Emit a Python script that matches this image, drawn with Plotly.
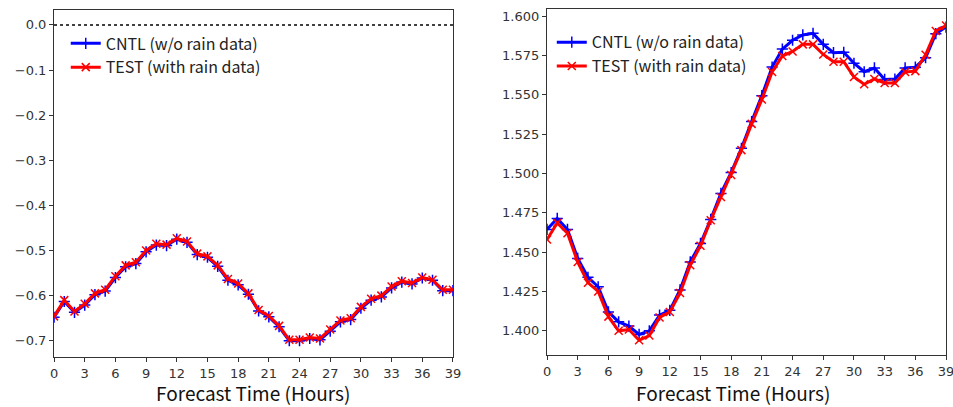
import plotly.graph_objects as go

hours = list(range(40))
x_ticks = list(range(0, 40, 3))

# Left panel (bias)
left_cntl = [-0.648, -0.613, -0.637, -0.621, -0.598, -0.590, -0.560, -0.536, -0.529, -0.503,
             -0.488, -0.489, -0.475, -0.482, -0.509, -0.515, -0.535, -0.566, -0.576, -0.597,
             -0.634, -0.647, -0.669, -0.700, -0.700, -0.695, -0.698, -0.679, -0.658, -0.653,
             -0.628, -0.610, -0.603, -0.583, -0.570, -0.574, -0.561, -0.566, -0.589, -0.589]
left_test = [-0.646, -0.610, -0.635, -0.618, -0.595, -0.587, -0.557, -0.533, -0.526, -0.500,
             -0.485, -0.487, -0.473, -0.480, -0.507, -0.513, -0.533, -0.563, -0.573, -0.595,
             -0.632, -0.645, -0.667, -0.698, -0.698, -0.693, -0.695, -0.675, -0.655, -0.650,
             -0.625, -0.607, -0.600, -0.580, -0.568, -0.572, -0.560, -0.565, -0.587, -0.587]

# Right panel (RMSE)
right_cntl = [1.4644, 1.4714, 1.4644, 1.4460, 1.4340, 1.4280, 1.4120, 1.4057, 1.4030, 1.3977,
              1.4000, 1.4100, 1.4130, 1.4260, 1.4438, 1.4555, 1.4708, 1.4873, 1.5006, 1.5160,
              1.5330, 1.5494, 1.5676, 1.5790, 1.5846, 1.5880, 1.5890, 1.5820, 1.5767, 1.5770,
              1.5700, 1.5646, 1.5670, 1.5597, 1.5600, 1.5670, 1.5675, 1.5735, 1.5888, 1.5930]
right_test = [1.4580, 1.4686, 1.4620, 1.4437, 1.4306, 1.4250, 1.4090, 1.4000, 1.4008, 1.3940,
              1.3970, 1.4085, 1.4120, 1.4240, 1.4417, 1.4540, 1.4703, 1.4850, 1.4990, 1.5148,
              1.5315, 1.5470, 1.5645, 1.5746, 1.5775, 1.5820, 1.5820, 1.5756, 1.5710, 1.5710,
              1.5613, 1.5566, 1.5600, 1.5575, 1.5575, 1.5645, 1.5650, 1.5754, 1.5905, 1.5940]

cntl_name = "CNTL (w/o rain data)"
test_name = "TEST (with rain data)"
x_title = "Forecast Time (Hours)"
BLUE = "#0000ff"
RED = "#ff0000"
TICK_FONT = dict(family="DejaVu Sans", size=13, color="#333333")
LABEL_FONT = "Noto Sans CJK JP"

fig = go.Figure()

def add_pair(cntl, test, xa, ya, legend):
    fig.add_trace(go.Scatter(x=hours, y=cntl, name=cntl_name, mode="lines+markers",
                             line=dict(color=BLUE, width=3),
                             marker=dict(symbol="cross-thin-open", size=8,
                                         line=dict(color=BLUE, width=1.5)),
                             xaxis=xa, yaxis=ya, legend=legend))
    fig.add_trace(go.Scatter(x=hours, y=test, name=test_name, mode="lines+markers",
                             line=dict(color=RED, width=3),
                             marker=dict(symbol="x-thin-open", size=8,
                                         line=dict(color=RED, width=1.5)),
                             xaxis=xa, yaxis=ya, legend=legend))

add_pair(left_cntl, left_test, "x", "y", "legend")
add_pair(right_cntl, right_test, "x2", "y2", "legend2")

fig.add_shape(type="line", xref="x", yref="y", x0=hours[0], x1=hours[-1], y0=0, y1=0,
              line=dict(color="black", width=1.5, dash="dot"))

for xc in (0.265, 0.7687):
    fig.add_annotation(text=x_title, xref="paper", yref="paper", x=xc, y=0.0,
                       xanchor="center", yanchor="bottom", showarrow=False, borderpad=0,
                       font=dict(family=LABEL_FONT, size=19, color="#111111"))

axis_common = dict(showline=True, mirror=True, linecolor="#333333", linewidth=1.2,
                   ticks="outside", ticklen=4, tickcolor="#333333", showgrid=False,
                   zeroline=False, tickfont=TICK_FONT, automargin=False,
                   ticklabeloverflow="allow")

xt = dict(range=[0, 39], tickmode="array", tickvals=x_ticks, **axis_common)

legend_common = dict(xref="paper", yref="paper", xanchor="left", yanchor="top",
                     bgcolor="rgba(255,255,255,0.8)",
                     font=dict(family=LABEL_FONT, size=16, color="#222222"),
                     tracegroupgap=0, itemwidth=30)

fig.update_layout(
    width=953, height=407,
    margin=dict(l=0, r=0, t=0, b=0),
    paper_bgcolor="white", plot_bgcolor="white",
    xaxis=dict(domain=[0.0567, 0.4753], anchor="y", **xt),
    yaxis=dict(domain=[0.1229, 0.9754], anchor="x", range=[-0.736, 0.033],
               tickvals=[0.0, -0.1, -0.2, -0.3, -0.4, -0.5, -0.6, -0.7], tickformat=".1f",
               **axis_common),
    xaxis2=dict(domain=[0.574, 0.9927], anchor="y2", **xt),
    yaxis2=dict(domain=[0.128, 0.978], anchor="x2", range=[1.3847, 1.6045],
                tickvals=[1.400, 1.425, 1.450, 1.475, 1.500, 1.525, 1.550, 1.575, 1.600],
                tickformat=".3f", **axis_common),
    legend=dict(x=0.069, y=0.935, **legend_common),
    legend2=dict(x=0.579, y=0.938, **legend_common),
)

fig.write_html("out.html", config={"displayModeBar": False},
               post_script="document.body.style.margin='0';")
